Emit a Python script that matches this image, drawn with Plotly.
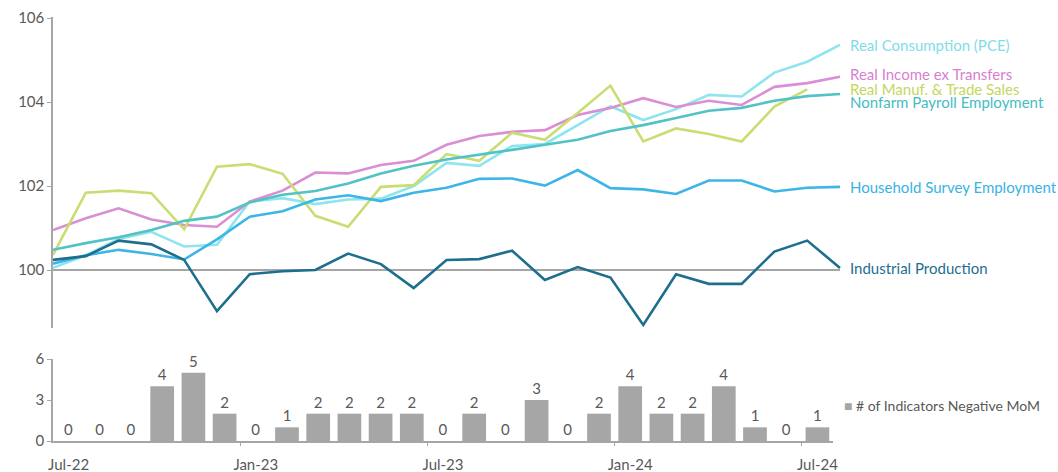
import plotly.graph_objects as go

months = ["Jul-22", "Aug-22", "Sep-22", "Oct-22", "Nov-22", "Dec-22",
          "Jan-23", "Feb-23", "Mar-23", "Apr-23", "May-23", "Jun-23",
          "Jul-23", "Aug-23", "Sep-23", "Oct-23", "Nov-23", "Dec-23",
          "Jan-24", "Feb-24", "Mar-24", "Apr-24", "May-24", "Jun-24", "Jul-24"]

pce = [100.05, 100.35, 100.74, 100.91, 100.56, 100.6, 101.63, 101.71, 101.57, 101.68,
       101.7, 102.0, 102.55, 102.48, 102.95, 103.0, 103.45, 103.9, 103.57, 103.83,
       104.17, 104.13, 104.7, 104.96, 105.36]
income = [100.95, 101.23, 101.47, 101.2, 101.07, 101.03, 101.63, 101.89, 102.32, 102.3,
          102.5, 102.6, 102.98, 103.19, 103.29, 103.33, 103.69, 103.86, 104.09, 103.88,
          104.03, 103.93, 104.36, 104.45, 104.6]
manuf = [100.36, 101.84, 101.89, 101.83, 100.97, 102.46, 102.52, 102.29, 101.29, 101.03,
         101.98, 102.02, 102.76, 102.6, 103.27, 103.1, 103.74, 104.39, 103.06, 103.37,
         103.24, 103.06, 103.89, 104.3, None]
nonfarm = [100.48, 100.64, 100.78, 100.95, 101.17, 101.27, 101.61, 101.79, 101.88, 102.06,
           102.3, 102.48, 102.63, 102.74, 102.86, 102.98, 103.1, 103.31, 103.45, 103.62,
           103.79, 103.86, 104.03, 104.14, 104.19]
household = [100.15, 100.35, 100.48, 100.38, 100.25, 100.73, 101.27, 101.4, 101.68, 101.78,
             101.64, 101.84, 101.96, 102.17, 102.18, 102.01, 102.38, 101.95, 101.92, 101.81,
             102.13, 102.13, 101.87, 101.96, 101.98]
indprod = [100.24, 100.33, 100.7, 100.61, 100.24, 99.02, 99.9, 99.97, 100.0, 100.39,
           100.14, 99.57, 100.24, 100.26, 100.46, 99.76, 100.07, 99.82, 98.69, 99.9,
           99.67, 99.67, 100.44, 100.7, 100.05]
neg_count = [0, 0, 0, 4, 5, 2, 0, 1, 2, 2, 2, 2, 0, 2, 0, 3, 0, 2, 4, 2, 2, 4, 1, 0, 1]

series_names = ["Real Consumption (PCE)", "Real Income ex Transfers", "Real Manuf. & Trade Sales",
                "Nonfarm Payroll Employment", "Household Survey Employment", "Industrial Production"]
bar_name = "# of Indicators Negative MoM"
bottom_ticks = ["Jul-22", "Jan-23", "Jul-23", "Jan-24", "Jul-24"]

W, H = 1058, 472
FONT = "Lato, 'Open Sans', sans-serif"
GREY = "#595959"
AXIS = "#A6A6A6"
BAR = "#A6A6A6"

colors = ["#8EE5EE", "#DA8ED3", "#C9DD72", "#52C2C6", "#3DB6E7", "#1E6E8E"]
label_colors = ["#7FDDEA", "#D77FCF", "#C2D85E", "#46BCC3", "#3AB2E4", "#1F6E8E"]
label_offsets = [0.0, 0.07, 0.0, -0.2, 0.0, 0.0]


def px_x(p):
    return p / W


def px_y(p):
    return 1 - p / H


fig = go.Figure()
all_series = [pce, income, manuf, nonfarm, household, indprod]
for name, vals, c in zip(series_names, all_series, colors):
    fig.add_trace(go.Scatter(x=months, y=vals, mode="lines", name=name,
                             line=dict(color=c, width=2.6), showlegend=False,
                             xaxis="x", yaxis="y"))

fig.add_trace(go.Bar(x=months, y=neg_count, name=bar_name,
                     marker=dict(color=BAR, line=dict(width=0)),
                     text=[str(v) for v in neg_count], textposition="outside",
                     textfont=dict(color=GREY, size=15, family=FONT), cliponaxis=False,
                     xaxis="x2", yaxis="y2", showlegend=False))

# invisible trace to activate xaxis3 (tick marks between categories)
fig.add_trace(go.Scatter(x=[], y=[], xaxis="x3", yaxis="y2", showlegend=False))

# top panel: month 0 at x=53, month 24 at x=840
x0, x24 = 53, 840
unit = (x24 - x0) / 24
top_right = 850
fig.update_layout(
    width=W, height=H, margin=dict(l=0, r=0, t=0, b=0),
    paper_bgcolor="white", plot_bgcolor="white",
    font=dict(family=FONT, color=GREY, size=14),
    bargap=0.24, showlegend=False,
    xaxis=dict(domain=[px_x(x0), px_x(top_right)], type="category",
               range=[0, (top_right - x0) / unit], showgrid=False, zeroline=False,
               showticklabels=False, ticks="", showline=False, automargin=False),
    yaxis=dict(domain=[px_y(328), px_y(17)], range=[100 - (328 - 270) / 42, 100 + (270 - 17) / 42],
               tickvals=[100, 102, 104, 106], showgrid=False, zeroline=False,
               showline=True, linecolor=AXIS, linewidth=1.5, ticks="outside", ticklen=4,
               tickcolor=AXIS, tickfont=dict(size=15, color=GREY), automargin=False),
    xaxis2=dict(domain=[px_x(53), px_x(833)], type="category", range=[-0.5, 24.5],
                tickvals=bottom_ticks, ticktext=bottom_ticks, ticks="", showgrid=False,
                showline=True, linecolor=AXIS, linewidth=1.5, anchor="y2",
                ticklabelstandoff=9,
                tickfont=dict(size=15, color=GREY), automargin=False),
    xaxis3=dict(domain=[px_x(53), px_x(833)], range=[-0.5, 24.5], overlaying="x2",
                anchor="y2", tickvals=[5.5, 11.5, 17.5, 23.5], ticks="outside", ticklen=4,
                tickcolor=AXIS, showticklabels=False, showgrid=False, zeroline=False,
                showline=False),
    yaxis2=dict(domain=[px_y(441), px_y(359)], range=[0, 6], tickvals=[0, 3, 6],
                showgrid=False, zeroline=False, showline=True, linecolor=AXIS, linewidth=1.5,
                ticks="outside", ticklen=4, tickcolor=AXIS, anchor="x2",
                tickfont=dict(size=15, color=GREY), automargin=False),
)

# gray line at 100 across the top panel
fig.add_shape(type="line", xref="x", yref="y", x0=months[0], x1=months[-1], y0=100, y1=100,
              line=dict(color=AXIS, width=1.8), layer="below")

for name, vals, c, off in zip(series_names, all_series, label_colors, label_offsets):
    last = [v for v in vals if v is not None][-1]
    fig.add_annotation(x=px_x(848), xref="paper", y=last + off, yref="y", text=name,
                       showarrow=False, xanchor="left", yanchor="middle",
                       font=dict(size=15, color=c, family=FONT))

# legend for the bar series
fig.add_annotation(x=px_x(842), xref="paper", y=px_y(405), yref="paper",
                   text=f'<span style="color:{BAR}">■</span> {bar_name}',
                   showarrow=False, xanchor="left", yanchor="middle",
                   font=dict(size=14, color=GREY, family=FONT))

fig.write_html("out.html", config={"displayModeBar": False},
               post_script="document.body.style.margin='0';document.body.style.overflow='hidden';")
